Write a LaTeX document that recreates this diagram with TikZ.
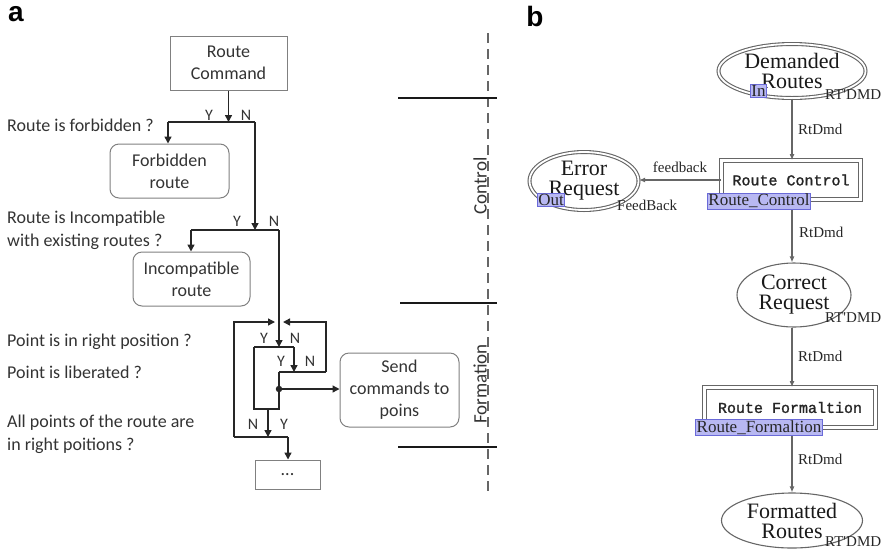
\documentclass[tikz,border=0pt]{standalone}
\usepackage{fontspec}
\setmainfont{Carlito}
\newfontfamily\serifb{Liberation Serif}
\newfontfamily\monob[FakeBold=1.5]{Liberation Mono}
\newfontfamily\headf{Liberation Sans}
\usetikzlibrary{arrows.meta,shapes.geometric}

\definecolor{ink}{HTML}{333333}
\definecolor{tagfill}{HTML}{B8B8F2}
\definecolor{tagline}{HTML}{6A6AD8}

\begin{document}
\begin{tikzpicture}[x=1pt,y=-1pt,
  flow/.style={line width=1.4pt, draw=black!85},
  farr/.style={flow, -{Triangle[length=7pt,width=7pt]}},
  sqbox/.style={draw=black!50, line width=1pt, inner sep=0pt, align=center,
    text=ink, font=\fontsize{18}{22}\selectfont},
  rbox/.style={sqbox, rounded corners=9pt},
  qlabel/.style={anchor=west, align=left, text=ink, inner sep=0pt,
    font=\fontsize{18}{23}\selectfont},
  yn/.style={text=ink, inner sep=0pt, font=\fontsize{16}{16}\selectfont},
  phase/.style={rotate=90, text=ink, inner sep=0pt, font=\fontsize{19}{19}\selectfont},
  sep/.style={line width=2.4pt, draw=black!90},
  axis/.style={line width=1.2pt, draw=black!60, dash pattern=on 10pt off 6pt},
  panel/.style={inner sep=0pt, font=\headf\bfseries\fontsize{28}{28}\selectfont},
  % Petri-net part
  pn/.style={draw=black!60, line width=1.1pt},
  pnarr/.style={pn, -{Latex[length=6pt,width=5pt]}},
  place/.style={ellipse, draw=black!60, line width=1.1pt, inner sep=0pt,
    align=center, text=black!90, font=\serifb\fontsize{22}{20}\selectfont},
  dplace/.style={place, double, double distance=1.8pt},
  trans/.style={rectangle, draw=black!60, line width=1pt, double, double distance=3pt,
    inner sep=0pt, text=black!85, font=\monob\fontsize{15}{15}\selectfont},
  tag/.style={fill=tagfill, draw=tagline, line width=0.8pt, inner sep=1pt,
    text=black!85, font=\serifb\fontsize{17}{17}\selectfont},
  arclab/.style={inner sep=0pt, text=black!85, font=\serifb\fontsize{15}{15}\selectfont},
]
\useasboundingbox (0,0) rectangle (886,550);

% ---------- panel a: route flow ----------
\node[panel] (pa) at (16,14) {a};

\node[sqbox, minimum width=117, minimum height=54] (rc) at (228.5,63) {Route\\Command};
\node[rbox, minimum width=119, minimum height=54] (fb) at (169.5,171) {Forbidden\\route};
\node[rbox, minimum width=117, minimum height=54] (ic) at (191.5,279) {Incompatible\\route};
\node[rbox, minimum width=119, minimum height=74] (sc) at (399.5,390) {Send\\commands to\\poins};
\node[sqbox, minimum width=65, minimum height=29] (dt) at (287.5,474.5) {...};

\coordinate (j1) at (228,122);
\coordinate (j1y) at (168,122);
\coordinate (j1n) at (255,122);
\coordinate (j2) at (255,230);
\coordinate (j2y) at (191,230);
\coordinate (j2n) at (279,230);
\coordinate (j3) at (279,347);
\coordinate (j3y) at (254,347);
\coordinate (j3n) at (294,347);
\coordinate (j4) at (294,372);
\coordinate (j4y) at (279,372);
\coordinate (j4n) at (326,372);
\coordinate (tl) at (234,322);
\coordinate (tla) at (275,322);
\coordinate (tr) at (326,322);
\coordinate (tra) at (283,322);
\coordinate (mrg) at (279,409);
\coordinate (mrgl) at (254,409);
\coordinate (m) at (268,409);
\coordinate (j5) at (268,437);
\coordinate (j5n) at (234,437);
\coordinate (j5y) at (288,437);
\node[circle, fill=black!85, inner sep=0pt, minimum size=6.5pt] (dot) at (279,389) {};

\draw[farr] (rc.south) -- (rc.south |- j1);
\draw[flow] (j1y) -- (j1n);
\draw[farr] (j1y) -- (j1y |- fb.north);
\draw[farr] (j1n) -- (j2);
\draw[flow] (j2y) -- (j2n);
\draw[farr] (j2y) -- (j2y |- ic.north);
\draw[farr] (j2n) -- (j3);
\draw[flow] (j3y) -- (j3n);
\draw[farr] (j3n) -- (j4);
\draw[flow] (j4y) -- (j4n);
\draw[farr] (j4n) -- (tr) -- (tra);
\draw[flow] (j4y) -- (mrg) -- (mrgl) -- (j3y);
\draw[farr] (dot) -- (dot -| sc.west);
\draw[farr] (m) -- (j5);
\draw[flow] (j5n) -- (j5y);
\draw[farr] (j5n) -- (tl) -- (tla);
\draw[farr] (j5y) -- (j5y |- dt.north);

\node[yn] (y1) at (209,115) {Y};
\node[yn] (n1) at (246,115) {N};
\node[yn] (y2) at (237,221) {Y};
\node[yn] (n2) at (274,221) {N};
\node[yn] (y3) at (264,338) {Y};
\node[yn] (n3) at (295,338) {N};
\node[yn] (y4) at (281,361) {Y};
\node[yn] (n4) at (310,361) {N};
\node[yn] (n5) at (253,424) {N};
\node[yn] (y5) at (284,424) {Y};

\node[qlabel] (q1) at (7,125) {Route is forbidden ?};
\node[qlabel] (q2) at (7,230) {Route is Incompatible\\with existing routes ?};
\node[qlabel] (q3) at (7,342) {Point is in right position ?};
\node[qlabel] (q4) at (7,372) {Point is liberated ?};
\node[qlabel] (q5) at (7,434) {All points of the route are\\in right poitions ?};

% phase markers
\coordinate (ax1) at (488,33);
\coordinate (ax2) at (488,493);
\draw[axis] (ax1) -- (ax2);
\coordinate (s1a) at (398,98);  \coordinate (s1b) at (497,98);
\coordinate (s2a) at (400,303); \coordinate (s2b) at (497,303);
\coordinate (s3a) at (398,447); \coordinate (s3b) at (497,447);
\draw[sep] (s1a) -- (s1b);
\draw[sep] (s2a) -- (s2b);
\draw[sep] (s3a) -- (s3b);
\node[phase] (ctl) at (480,186) {Control};
\node[phase] (frm) at (480,384) {Formation};

% ---------- panel b: Petri net ----------
\node[panel] (pb) at (535,16) {b};

\node[dplace, minimum width=147, minimum height=54] (dr) at (792,71) {Demanded\\Routes};
\node[trans, minimum width=139, minimum height=39] (rct) at (791,180) {Route Control};
\node[dplace, minimum width=109, minimum height=58] (er) at (584,181) {Error\\Request};
\node[place, minimum width=114, minimum height=64] (cr) at (794,295) {Correct\\Request};
\node[trans, minimum width=171, minimum height=40] (rft) at (790,407.5) {Route Formaltion};
\node[place, minimum width=141, minimum height=55] (fr) at (792,520.5) {Formatted\\Routes};

\draw[pnarr] (dr.south) -- (dr.south |- rct.north);
\draw[pnarr] (rct.west) -- (rct.west -| er.east);
\draw[pnarr] (rct.south -| dr.south) -- (dr.south |- cr.north);
\draw[pnarr] (cr.south -| dr.south) -- (dr.south |- rft.north);
\draw[pnarr] (rft.south -| dr.south) -- (dr.south |- fr.north);

\node[tag] (tin) at (758.5,90.5) {In};
\node[tag] (tout) at (551,200) {Out};
\node[tag] (trc) at (759,201) {Route\_Control};
\node[tag] (trf) at (759,427.5) {Route\_Formaltion};

\node[arclab, anchor=west] (l1) at (825,95) {RT'DMD};
\node[arclab, anchor=west] (l2) at (798,129) {RtDmd};
\node[arclab] (l3) at (680,167) {feedback};
\node[arclab, anchor=west] (l4) at (617,205) {FeedBack};
\node[arclab, anchor=west] (l5) at (799,232) {RtDmd};
\node[arclab, anchor=west] (l6) at (825,318) {RT'DMD};
\node[arclab, anchor=west] (l7) at (798,356) {RtDmd};
\node[arclab, anchor=west] (l8) at (798,459) {RtDmd};
\node[arclab, anchor=west] (l9) at (825,542) {RT'DMD};
\end{tikzpicture}
\end{document}
